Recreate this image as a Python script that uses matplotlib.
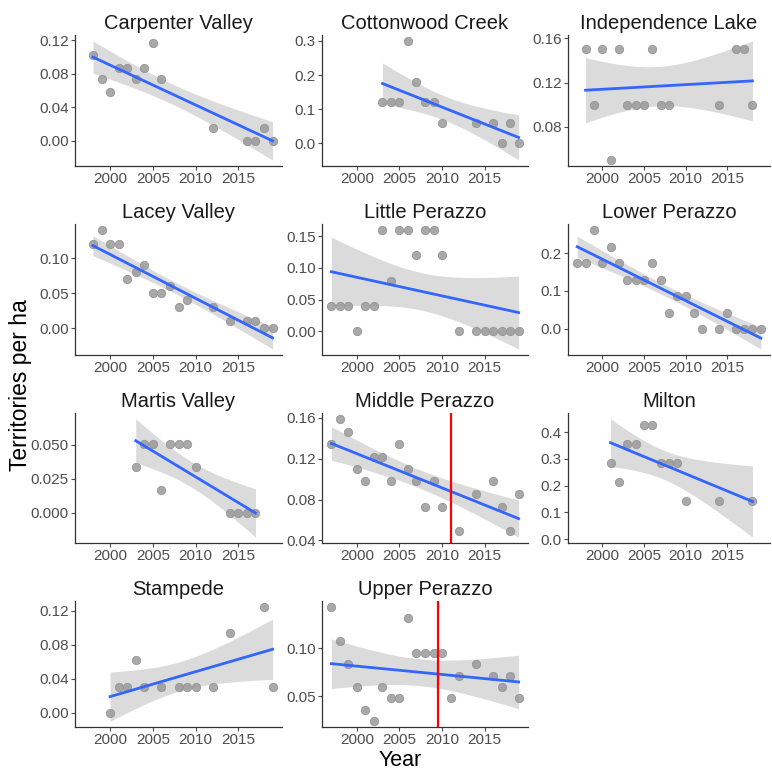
import numpy as np
import matplotlib.pyplot as plt

plt.rcParams['font.family'] = ['Liberation Sans', 'DejaVu Sans']

# territories per ha by site and survey year
carpenter_years = [1998, 1999, 2000, 2001, 2002, 2003, 2004, 2005, 2006, 2012, 2016, 2017, 2018, 2019]
carpenter_vals = [0.102, 0.073, 0.058, 0.087, 0.087, 0.073, 0.087, 0.116, 0.073, 0.015, 0.0, 0.0, 0.015, 0.0]

cottonwood_years = [2003, 2004, 2005, 2006, 2007, 2008, 2009, 2010, 2014, 2016, 2017, 2018, 2019]
cottonwood_vals = [0.12, 0.12, 0.12, 0.30, 0.18, 0.12, 0.12, 0.06, 0.06, 0.06, 0.0, 0.06, 0.0]

independence_years = [1998, 1999, 2000, 2001, 2002, 2003, 2004, 2005, 2006, 2007, 2008, 2014, 2016, 2017, 2018]
independence_vals = [0.15, 0.10, 0.15, 0.05, 0.15, 0.10, 0.10, 0.10, 0.15, 0.10, 0.10, 0.10, 0.15, 0.15, 0.10]

lacey_years = [1998, 1999, 2000, 2001, 2002, 2003, 2004, 2005, 2006, 2007, 2008, 2009, 2012, 2014, 2016, 2017, 2018, 2019]
lacey_vals = [0.12, 0.14, 0.12, 0.12, 0.07, 0.08, 0.09, 0.05, 0.05, 0.06, 0.03, 0.04, 0.03, 0.01, 0.01, 0.01, 0.0, 0.0]

little_years = [1997, 1998, 1999, 2000, 2001, 2002, 2003, 2004, 2005, 2006, 2007, 2008, 2009, 2010,
                2012, 2014, 2015, 2016, 2017, 2018, 2019]
little_vals = [0.04, 0.04, 0.04, 0.0, 0.04, 0.04, 0.16, 0.08, 0.16, 0.16, 0.12, 0.16, 0.16, 0.12,
               0.0, 0.0, 0.0, 0.0, 0.0, 0.0, 0.0]

lower_years = [1997, 1998, 1999, 2000, 2001, 2002, 2003, 2004, 2005, 2006, 2007, 2008, 2009, 2010,
               2011, 2012, 2014, 2015, 2016, 2017, 2018, 2019]
lower_vals = [0.174, 0.174, 0.261, 0.174, 0.217, 0.174, 0.130, 0.130, 0.130, 0.174, 0.130, 0.043, 0.087, 0.087,
              0.043, 0.0, 0.0, 0.043, 0.0, 0.0, 0.0, 0.0]

martis_years = [2003, 2004, 2005, 2006, 2007, 2008, 2009, 2010, 2014, 2015, 2016, 2017]
martis_vals = [0.034, 0.051, 0.051, 0.017, 0.051, 0.051, 0.051, 0.034, 0.0, 0.0, 0.0, 0.0]

middle_years = [1997, 1998, 1999, 2000, 2001, 2002, 2003, 2004, 2005, 2006, 2007, 2008, 2009, 2010,
                2012, 2014, 2016, 2017, 2018, 2019]
middle_vals = [0.134, 0.159, 0.146, 0.110, 0.098, 0.122, 0.122, 0.098, 0.134, 0.110, 0.098, 0.073, 0.098, 0.073,
               0.049, 0.085, 0.098, 0.073, 0.049, 0.085]

milton_years = [2001, 2002, 2003, 2004, 2005, 2006, 2007, 2008, 2009, 2010, 2014, 2018]
milton_vals = [0.286, 0.214, 0.357, 0.357, 0.429, 0.429, 0.286, 0.286, 0.286, 0.143, 0.143, 0.143]

stampede_years = [2000, 2001, 2002, 2003, 2004, 2006, 2008, 2009, 2010, 2012, 2014, 2018, 2019]
stampede_vals = [0.0, 0.031, 0.031, 0.0625, 0.031, 0.031, 0.031, 0.031, 0.031, 0.031, 0.094, 0.125, 0.031]

upper_years = [1997, 1998, 1999, 2000, 2001, 2002, 2003, 2004, 2005, 2006, 2007, 2008, 2009, 2010,
               2011, 2012, 2014, 2016, 2017, 2018, 2019]
upper_vals = [0.143, 0.107, 0.083, 0.060, 0.036, 0.024, 0.060, 0.048, 0.048, 0.131, 0.095, 0.095, 0.095, 0.095,
              0.048, 0.071, 0.083, 0.071, 0.060, 0.071, 0.048]

site_names = ['Carpenter Valley', 'Cottonwood Creek', 'Independence Lake', 'Lacey Valley',
              'Little Perazzo', 'Lower Perazzo', 'Martis Valley', 'Middle Perazzo', 'Milton',
              'Stampede', 'Upper Perazzo']
site_years = [carpenter_years, cottonwood_years, independence_years, lacey_years, little_years,
              lower_years, martis_years, middle_years, milton_years, stampede_years, upper_years]
site_vals = [carpenter_vals, cottonwood_vals, independence_vals, lacey_vals, little_vals,
             lower_vals, martis_vals, middle_vals, milton_vals, stampede_vals, upper_vals]
y_ticks = [[0, 0.04, 0.08, 0.12], [0, 0.1, 0.2, 0.3], [0.08, 0.12, 0.16], [0, 0.05, 0.10],
           [0, 0.05, 0.10, 0.15], [0, 0.1, 0.2], [0, 0.025, 0.050], [0.04, 0.08, 0.12, 0.16],
           [0, 0.1, 0.2, 0.3, 0.4], [0, 0.04, 0.08, 0.12], [0.05, 0.10]]
y_decimals = [2, 1, 2, 2, 2, 1, 3, 2, 1, 2, 2]
# management change year (only for two sites)
change_year = {'Middle Perazzo': 2011.0, 'Upper Perazzo': 2009.5}

x_ticks = [2000, 2005, 2010, 2015]
x_lim = (1995.9, 2020.1)


def t_quantile(df, z=1.959964):
    # Cornish-Fisher expansion of the 97.5% t quantile
    return (z + (z**3 + z) / (4 * df) + (5 * z**5 + 16 * z**3 + 3 * z) / (96 * df**2)
            + (3 * z**7 + 19 * z**5 + 17 * z**3 - 15 * z) / (384 * df**3))


def lm_fit(x, y):
    x = np.asarray(x, float)
    y = np.asarray(y, float)
    n = len(x)
    b1, b0 = np.polyfit(x, y, 1)
    resid = y - (b0 + b1 * x)
    s = np.sqrt(np.sum(resid**2) / (n - 2))
    xs = np.linspace(x.min(), x.max(), 80)
    fit = b0 + b1 * xs
    se = s * np.sqrt(1 / n + (xs - x.mean())**2 / np.sum((x - x.mean())**2))
    t = t_quantile(n - 2)
    return xs, fit, fit - t * se, fit + t * se


W = H = 772
fig = plt.figure(figsize=(W / 100, H / 100), dpi=100)

col_edges = [(75, 282), (322, 528), (568, 770)]
row_edges = [(35, 166), (224, 355), (413, 543), (601, 727)]

for i, name in enumerate(site_names):
    r, c = divmod(i, 3)
    x0, x1 = col_edges[c]
    top, bot = row_edges[r]
    ax = fig.add_axes([x0 / W, 1 - bot / H, (x1 - x0) / W, (bot - top) / H])

    yrs = site_years[i]
    vals = site_vals[i]
    xs, fit, lo, hi = lm_fit(yrs, vals)

    ax.scatter(yrs, vals, s=36, color='#A9A9A9', edgecolors='#969696', linewidths=0.6, zorder=2)
    ax.fill_between(xs, lo, hi, color='#999999', alpha=0.35, linewidth=0, zorder=3)
    ax.plot(xs, fit, color='#3366FF', linewidth=2.0, zorder=4)
    if name in change_year:
        ax.axvline(change_year[name], color='#FF0000', linewidth=1.6, zorder=5)

    ymin = min(min(vals), lo.min())
    ymax = max(max(vals), hi.max())
    pad = (ymax - ymin) * 0.05
    ax.set_ylim(ymin - pad, ymax + pad)
    ax.set_xlim(*x_lim)

    ax.set_xticks(x_ticks)
    ax.set_yticks(y_ticks[i])
    ax.set_yticklabels([f'{v:.{y_decimals[i]}f}' for v in y_ticks[i]])
    ax.tick_params(labelsize=11, colors='#4D4D4D', length=3, width=0.8, pad=1.5)
    for lab in ax.get_xticklabels() + ax.get_yticklabels():
        lab.set_color('#4D4D4D')
    for side in ['top', 'right']:
        ax.spines[side].set_visible(False)
    for side in ['left', 'bottom']:
        ax.spines[side].set_color('#333333')
        ax.spines[side].set_linewidth(0.9)
    ax.set_title(name, fontsize=14.5, color='#1A1A1A', pad=4)

fig.text(21 / W, 1 - 385 / H, 'Territories per ha', rotation=90, ha='center', va='center',
         fontsize=16.5, color='black')
fig.text(400 / W, 1 - 771 / H, 'Year', ha='center', va='bottom', fontsize=15.5, color='black')

fig.savefig('out.png', dpi=100)
